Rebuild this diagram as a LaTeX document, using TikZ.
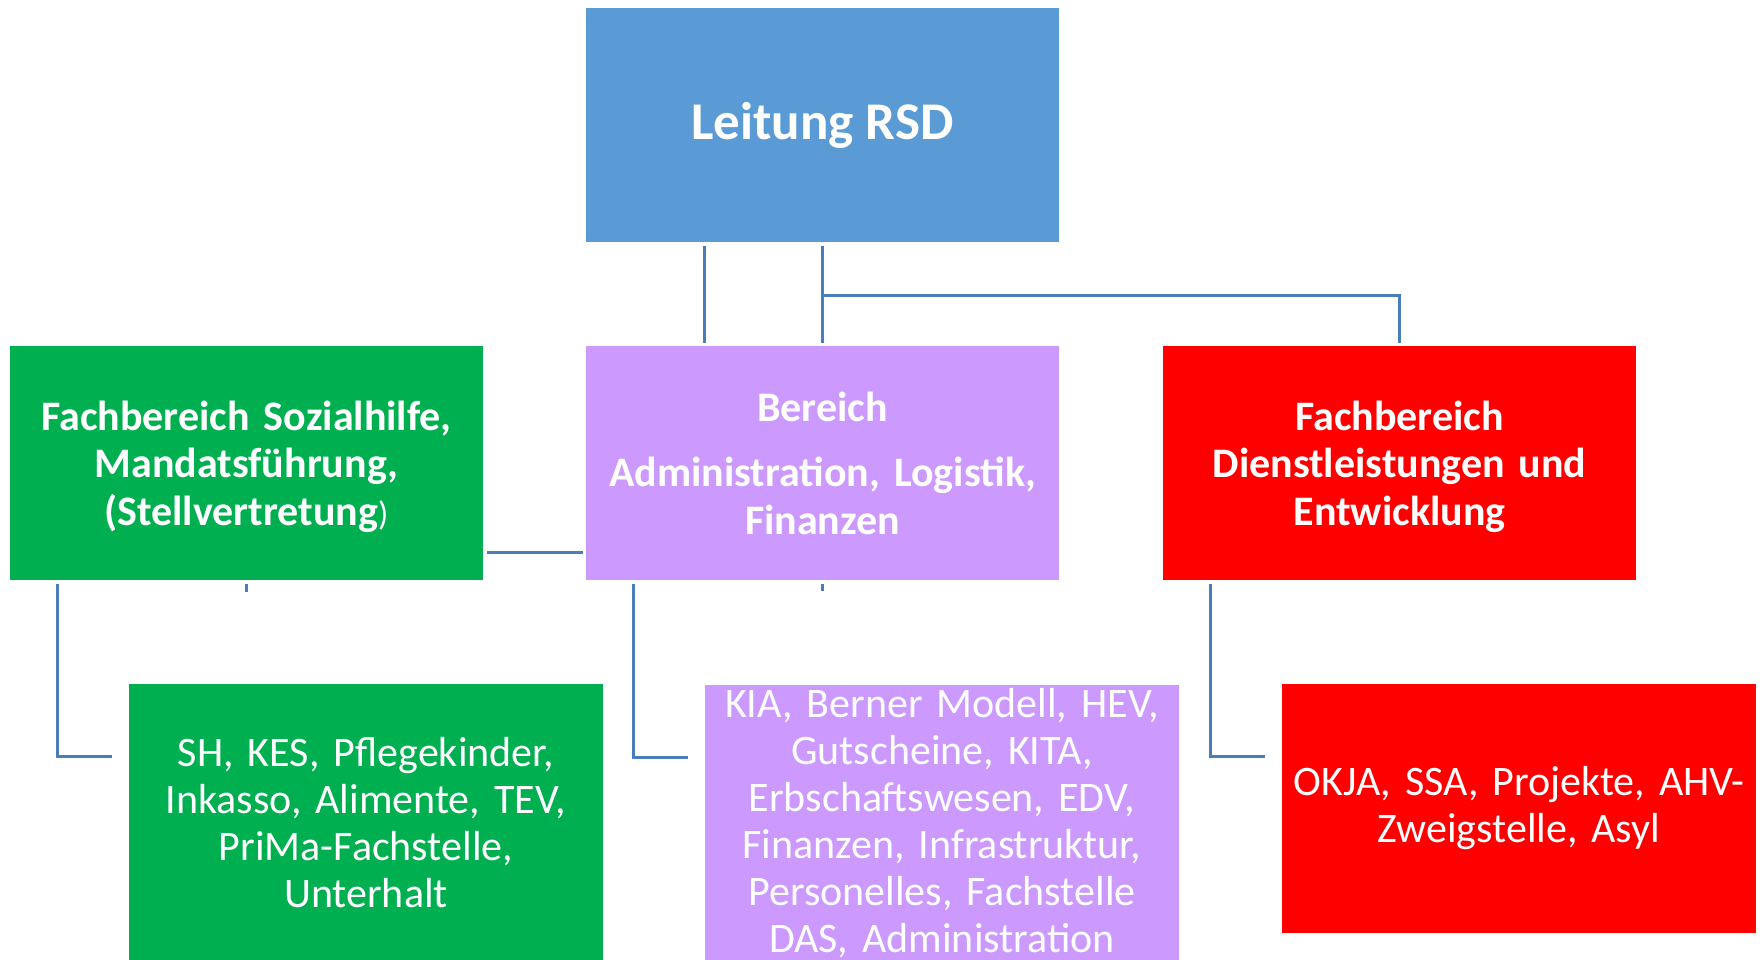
\documentclass[tikz,border=0pt]{standalone}
\usepackage{fontspec}
\setmainfont{Carlito}
\usetikzlibrary{calc}
\definecolor{cblue}{HTML}{5B9BD5}
\definecolor{cgreen}{HTML}{00B050}
\definecolor{cpurple}{HTML}{CC99FF}
\definecolor{cred}{HTML}{FF0000}
\definecolor{cline}{HTML}{4A7EBB}
\begin{document}
\begin{tikzpicture}[x=1pt,y=-1pt,
  box/.style={rectangle, inner sep=0pt, text=white, align=center},
  headbox/.style={box, minimum width=473pt, minimum height=234pt, text width=465pt,
    font=\fontsize{42}{47.2}\selectfont\bfseries},
  leafbox/.style={box, minimum width=474pt, text width=470pt,
    font=\fontsize{42}{47}\selectfont},
  conn/.style={draw=cline, line width=3pt}]
\useasboundingbox (0,0) rectangle (1763,959);

\node[box, fill=cblue, minimum width=473pt, minimum height=234pt,
  font=\fontsize{53}{64}\selectfont\bfseries] (top) at (822.5,125) {Leitung RSD};

\node[headbox, fill=cgreen] (green) at (246.5,463)
  {\rule{0pt}{37pt}Fachbereich Sozialhilfe,\\ Mandatsführung,\\ (Stellvertretung{\mdseries\fontsize{34}{40}\selectfont)}};
\node[headbox, fill=cpurple] (purple) at (822.5,463)
  {Bereich\\[18.5pt] Administration, Logistik,\\ Finanzen};
\node[headbox, fill=cred] (red) at (1399.5,463)
  {\rule{0pt}{37pt}Fachbereich\\ Dienstleistungen und\\ Entwicklung};

\node[leafbox, fill=cgreen, minimum height=277pt] (sh) at (366,822.5)
  {SH, KES, Pflegekinder,\\ Inkasso, Alimente, TEV,\\ PriMa-Fachstelle,\\ Unterhalt};
\node[leafbox, fill=cpurple, minimum height=277pt] (kia) at (942,823.5)
  {KIA, Berner Modell, HEV,\\ Gutscheine, KITA,\\ Erbschaftswesen, EDV,\\ Finanzen, Infrastruktur,\\ Personelles, Fachstelle\\ DAS, Administration};
\node[leafbox, fill=cred, minimum height=249pt] (okja) at (1519,808.5)
  {OKJA, SSA, Projekte, AHV-\\ Zweigstelle, Asyl};

% connectors from the top box
\draw[conn] ($(top.south west)!0.25!(top.south east)+(0,4)$) -- ($(purple.north west)!0.25!(purple.north east)+(0,-3)$);
\draw[conn] ($(top.south)+(0,4)$) -- ($(purple.north)+(0,-3)$);
\draw[conn] ($(top.south)+(0,53)$) -| ($(red.north)+(0,-3)$);
% green to purple
\draw[conn] ($(green.east)+(4,89)$) -- ($(purple.west)+(-3,89)$);
% small stubs
\draw[conn] ($(green.south)+(0,4)$) -- ++(0,8);
\draw[conn] ($(purple.south)+(0,4)$) -- ++(0,7);
% elbow connectors to the lower boxes
\draw[conn] ($(green.south west)!0.1!(green.south east)+(0,4)$) |- ($(sh.north west)+(-17,73)$);
\draw[conn] ($(purple.south west)!0.1!(purple.south east)+(0,4)$) |- ($(kia.north west)+(-17,73)$);
\draw[conn] ($(red.south west)!0.1!(red.south east)+(0,4)$) |- ($(okja.north west)+(-17,73)$);
\end{tikzpicture}
\end{document}
